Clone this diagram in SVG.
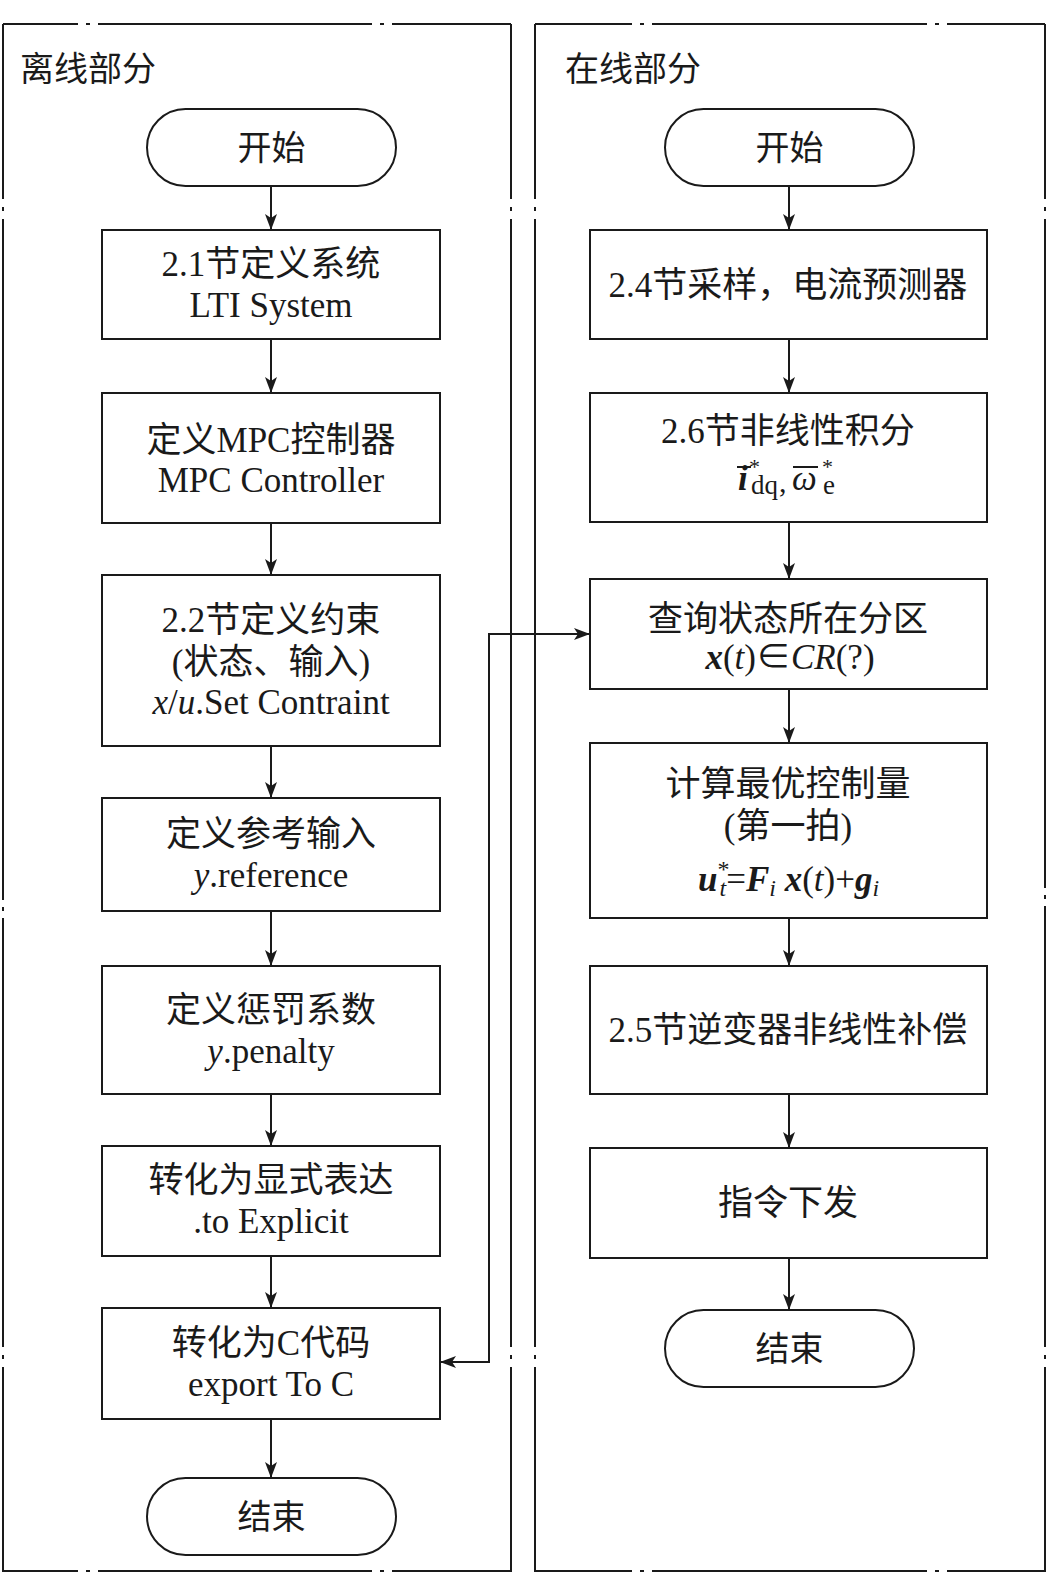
<svg xmlns="http://www.w3.org/2000/svg" width="1048" height="1593" viewBox="0 0 1048 1593">
<style>
.frame{fill:none;stroke:#1a1a1a;stroke-width:2}
.box{fill:#fff;stroke:#1a1a1a;stroke-width:2}
.t{font-family:"Liberation Serif","Noto Sans CJK SC",serif;font-size:35px;fill:#1a1a1a;text-anchor:middle}
.h{font-family:"Liberation Serif","Noto Sans CJK SC",serif;font-size:34px;fill:#1a1a1a}
.f{font-family:"Liberation Serif","DejaVu Serif",serif;font-size:35px;fill:#1a1a1a}
.bi{font-weight:bold;font-style:italic}
.it{font-style:italic}
.con{fill:none;stroke:#1a1a1a;stroke-width:2}
</style>
<defs>
<marker id="ah" viewBox="0 0 16 12" refX="16" refY="6" markerWidth="16" markerHeight="12" markerUnits="userSpaceOnUse" orient="auto-start-reverse">
<path d="M0,0 L16,6 L0,12 L4,6 Z" fill="#1a1a1a"/>
</marker>
</defs>
<rect width="1048" height="1593" fill="#fff"/>
<g id="panels">
<path class="frame" d="M3,24 H78 M86,24 H90 M98,24 H372 M380,24 H384 M392,24 H511 M3,1571 H78 M86,1571 H90 M98,1571 H372 M380,1571 H384 M392,1571 H511 M3,24 V199 M3,207 V211 M3,219 V900 M3,907 V911 M3,918 V1347 M3,1355 V1359 M3,1367 V1572 M511,24 V199 M511,207 V211 M511,219 V1347 M511,1355 V1359 M511,1367 V1572"/>
<path class="frame" d="M535,24 H632 M640,24 H644 M652,24 H927 M935,24 H939 M947,24 H1045 M535,1571 H632 M640,1571 H644 M652,1571 H927 M935,1571 H939 M947,1571 H1045 M535,24 V199 M535,207 V211 M535,219 V1347 M535,1355 V1359 M535,1367 V1572 M1045,24 V199 M1045,207 V211 M1045,219 V888 M1045,895 V899 M1045,906 V1347 M1045,1355 V1359 M1045,1367 V1572"/>
<text class="h" x="20" y="81">离线部分</text>
<text class="h" x="565" y="81">在线部分</text>
</g>
<g id="connectors">
<path class="con" marker-end="url(#ah)" d="M271,186 V230"/>
<path class="con" marker-end="url(#ah)" d="M271,339 V393"/>
<path class="con" marker-end="url(#ah)" d="M271,523 V575"/>
<path class="con" marker-end="url(#ah)" d="M271,746 V798"/>
<path class="con" marker-end="url(#ah)" d="M271,911 V966"/>
<path class="con" marker-end="url(#ah)" d="M271,1094 V1146"/>
<path class="con" marker-end="url(#ah)" d="M271,1256 V1308"/>
<path class="con" marker-end="url(#ah)" d="M271,1419 V1478"/>
<path class="con" marker-end="url(#ah)" d="M789,186 V230"/>
<path class="con" marker-end="url(#ah)" d="M789,339 V393"/>
<path class="con" marker-end="url(#ah)" d="M789,522 V579"/>
<path class="con" marker-end="url(#ah)" d="M789,689 V743"/>
<path class="con" marker-end="url(#ah)" d="M789,918 V966"/>
<path class="con" marker-end="url(#ah)" d="M789,1094 V1148"/>
<path class="con" marker-end="url(#ah)" d="M789,1258 V1310"/>
<path class="con" marker-start="url(#ah)" marker-end="url(#ah)" d="M440,1362 H489 V634 H590"/>
</g>
<g id="L0"><rect class="box" x="147" y="109" width="249" height="77" rx="38.5"/><text class="t" x="271.5" y="160" style="font-size:34px">开始</text></g>
<g id="L1"><rect class="box" x="102" y="230" width="338" height="109"/><text class="t" x="271" y="276">2.1节定义系统</text><text class="t" x="271" y="317">LTI System</text></g>
<g id="L2"><rect class="box" x="102" y="393" width="338" height="130"/><text class="t" x="271" y="452">定义MPC控制器</text><text class="t" x="271" y="492">MPC Controller</text></g>
<g id="L3"><rect class="box" x="102" y="575" width="338" height="171"/><text class="t" x="271" y="632">2.2节定义约束</text><text class="t" x="271" y="674">(状态、输入)</text><text class="t" x="271" y="714"><tspan class="it">x</tspan>/<tspan class="it">u</tspan>.Set Contraint</text></g>
<g id="L4"><rect class="box" x="102" y="798" width="338" height="113"/><text class="t" x="271" y="846">定义参考输入</text><text class="t" x="271" y="887"><tspan class="it">y</tspan>.reference</text></g>
<g id="L5"><rect class="box" x="102" y="966" width="338" height="128"/><text class="t" x="271" y="1022">定义惩罚系数</text><text class="t" x="271" y="1063"><tspan class="it">y</tspan>.penalty</text></g>
<g id="L6"><rect class="box" x="102" y="1146" width="338" height="110"/><text class="t" x="271" y="1192">转化为显式表达</text><text class="t" x="271" y="1233">.to Explicit</text></g>
<g id="L7"><rect class="box" x="102" y="1308" width="338" height="111"/><text class="t" x="271" y="1355">转化为C代码</text><text class="t" x="271" y="1396">export To C</text></g>
<g id="L8"><rect class="box" x="147" y="1478" width="249" height="77" rx="38.5"/><text class="t" x="271.5" y="1529" style="font-size:34px">结束</text></g>
<g id="R0"><rect class="box" x="665" y="109" width="249" height="77" rx="38.5"/><text class="t" x="789.5" y="160" style="font-size:34px">开始</text></g>
<g id="R1"><rect class="box" x="590" y="230" width="397" height="109"/><text class="t" x="788" y="297">2.4节采样，电流预测器</text></g>
<g id="R2"><rect class="box" x="590" y="393" width="397" height="129"/><text class="t" x="788" y="443">2.6节非线性积分</text>
<text class="f bi" x="738" y="490">i</text><text class="f" x="749" y="474" style="font-size:22px">*</text><text class="f" x="751" y="494" style="font-size:27px">dq</text><text class="f" x="779" y="492" style="font-size:30px">,</text><text class="f it" x="792" y="490">ω</text><text class="f" x="822" y="474" style="font-size:22px">*</text><text class="f" x="823" y="494" style="font-size:27px">e</text>
<path class="con" d="M737,467 H751 M793,467 H818"/></g>
<g id="R3"><rect class="box" x="590" y="579" width="397" height="110"/><text class="t" x="788" y="631">查询状态所在分区</text><text class="t" x="790" y="669"><tspan class="bi">x</tspan>(<tspan class="it">t</tspan>)∈<tspan class="it">CR</tspan>(?)</text></g>
<g id="R4"><rect class="box" x="590" y="743" width="397" height="175"/><text class="t" x="788" y="796">计算最优控制量</text><text class="t" x="788" y="838">(第一拍)</text>
<text class="f" x="698" y="891"><tspan class="bi">u</tspan><tspan dy="-14" style="font-size:24px">*</tspan><tspan dx="-10" dy="19" class="it" style="font-size:24px">t</tspan><tspan dy="-5">=</tspan><tspan class="bi">F</tspan><tspan dy="5" class="it" style="font-size:24px">i</tspan><tspan dy="-5"> </tspan><tspan class="bi">x</tspan>(<tspan class="it">t</tspan>)+<tspan class="bi">g</tspan><tspan dy="5" class="it" style="font-size:24px">i</tspan></text></g>
<g id="R5"><rect class="box" x="590" y="966" width="397" height="128"/><text class="t" x="788" y="1042">2.5节逆变器非线性补偿</text></g>
<g id="R6"><rect class="box" x="590" y="1148" width="397" height="110"/><text class="t" x="788" y="1215">指令下发</text></g>
<g id="R7"><rect class="box" x="665" y="1310" width="249" height="77" rx="38.5"/><text class="t" x="789.5" y="1361" style="font-size:34px">结束</text></g>
</svg>
